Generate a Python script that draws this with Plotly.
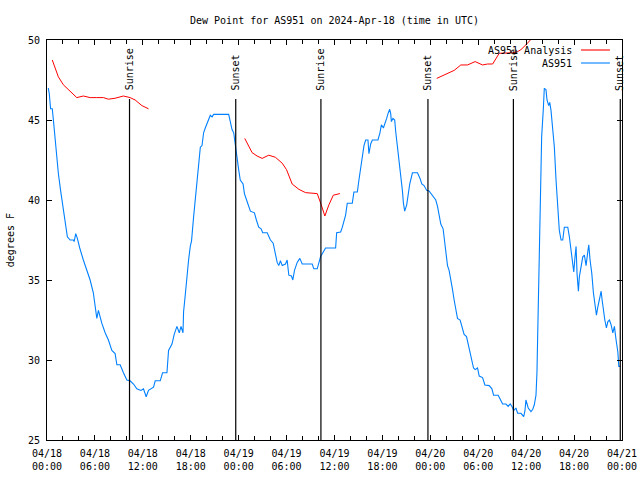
import pandas as pd
import plotly.graph_objects as go

# ---------------- data ----------------
START = "2024-04-18 00:00"

obs_hours = [0.16, 0.28, 0.45, 0.66, 0.8, 1.0, 1.2, 1.42, 1.7, 1.92, 2.17, 2.38, 2.55, 2.9, 3.3, 3.4, 3.6, 3.8,
             3.93, 4.1, 4.55, 4.98, 5.4, 5.8, 6.0, 6.24, 6.44, 6.86, 7.28, 7.69, 8.12, 8.53, 8.75, 9.16, 9.57,
             10.0, 10.4, 10.83, 11.25, 11.76, 12.08, 12.42, 12.71, 13.0, 13.34, 13.55, 14.18, 14.47, 15.02,
             15.22, 15.65, 15.93, 16.27, 16.56, 16.78, 17.03, 17.1, 17.3, 17.53, 17.73, 17.94, 18.1, 18.36,
             18.57, 18.78, 18.98, 19.2, 19.41, 19.61, 19.82, 20.04, 20.24, 20.45, 20.67, 20.87, 22.75, 22.96,
             23.17, 23.38, 23.59, 23.8, 24.0, 24.2, 24.55, 24.72, 24.97, 25.13, 25.47, 25.97, 26.22, 26.51,
             26.81, 27.01, 27.57, 27.98, 28.32, 28.6, 28.82, 29.02, 29.23, 29.45, 29.86, 30.07, 30.28, 30.61,
             30.78, 30.99, 31.33, 31.66, 31.96, 33.21, 33.41, 33.84, 34.04, 34.25, 34.88, 36.14, 36.27, 36.77,
             36.98, 37.39, 37.6, 38.23, 38.43, 38.86, 39.06, 39.27, 39.49, 39.69, 39.9, 40.19, 40.31, 40.53,
             40.74, 41.44, 41.69, 41.87, 42.12, 42.28, 42.53, 42.7, 42.91, 43.04, 43.12, 43.32, 43.54, 43.66,
             43.88, 44.08, 44.29, 44.5, 44.63, 44.79, 45.04, 45.2, 45.42, 45.76, 46.39, 46.71, 46.93, 47.21,
             47.55, 47.84, 48.27, 48.68, 48.9, 49.1, 49.31, 49.6, 49.75, 49.94, 50.15, 50.35, 50.56, 50.78,
             50.98, 51.19, 51.4, 51.73, 52.03, 52.23, 52.53, 52.74, 52.95, 53.16, 53.41, 53.61, 53.91, 54.12,
             54.54, 54.83, 55.37, 55.71, 55.92, 56.5, 56.84, 57.05, 57.47, 57.75, 58.0, 58.22, 58.43, 58.72,
             58.93, 59.35, 59.69, 59.85, 59.97, 60.1, 60.26, 60.6, 60.81, 61.02, 61.23, 61.35, 61.44, 61.57,
             61.64, 61.77, 61.94, 62.15, 62.27, 62.48, 62.61, 62.82, 62.95, 63.11, 63.32, 63.53, 63.74, 63.95,
             64.15, 64.37, 64.58, 64.78, 65.21, 65.41, 65.53, 65.71, 65.83, 65.96, 66.12, 66.25, 66.37, 66.54,
             66.66, 66.88, 67.09, 67.29, 67.5, 67.72, 67.84, 68.0, 68.22, 68.42, 68.63, 68.8, 68.97, 69.17,
             69.39, 69.51, 69.67, 69.85, 70.05, 70.23, 70.43, 70.64, 70.85, 71.05, 71.26, 71.48, 71.6, 71.8]
obs_dewpoint = [47.0, 46.67, 45.7, 45.7, 45.0, 43.75, 42.5, 41.67, 40.6, 39.8, 38.96, 38.1, 37.7, 37.5, 37.5,
                37.4, 37.9, 37.6, 37.3, 37.0, 36.25, 35.6, 35.0, 34.2, 33.3, 32.6, 33.1, 32.3, 31.7, 31.25,
                30.6, 30.4, 29.7, 29.7, 29.2, 28.75, 28.7, 28.5, 28.2, 28.1, 28.2, 27.7, 28.1, 28.2, 28.3, 28.7,
                28.7, 29.2, 29.2, 30.6, 31.0, 31.6, 32.1, 31.7, 32.1, 31.7, 33.0, 34.0, 35.4, 36.25, 37.1, 37.45,
                38.96, 40.0, 41.46, 42.5, 43.3, 43.4, 44.2, 44.5, 44.8, 45.1, 45.3, 45.2, 45.35, 45.35, 44.8,
                44.4, 44.2, 43.3, 42.7, 41.9, 41.25, 41.0, 40.4, 40.1, 39.8, 39.3, 39.2, 38.75, 38.3, 38.2,
                37.95, 37.95, 37.5, 37.3, 36.6, 36.1, 35.9, 36.2, 35.9, 36.0, 36.25, 35.3, 35.25, 35.0, 35.6,
                36.1, 36.35, 36.0, 36.0, 35.7, 35.7, 36.0, 36.45, 37.0, 37.0, 37.95, 38.0, 38.3, 39.06, 39.8,
                39.8, 40.5, 40.5, 41.25, 41.9, 42.7, 43.4, 43.75, 43.75, 42.9, 43.5, 43.75, 43.75, 44.2, 44.7,
                44.5, 44.7, 45.1, 45.4, 45.67, 45.4, 44.9, 45.1, 45.0, 44.3, 43.4, 42.5, 41.67, 40.6, 39.8,
                39.3, 39.7, 40.2, 41.0, 41.7, 41.7, 41.35, 41.0, 40.9, 40.6, 40.56, 40.3, 40.0, 39.6, 39.06,
                38.5, 38.2, 37.5, 36.67, 35.9, 35.6, 35.1, 34.4, 33.75, 33.1, 32.6, 32.5, 32.0, 31.6, 31.46,
                30.94, 30.5, 30.0, 29.5, 29.4, 29.5, 29.0, 28.9, 28.44, 28.4, 28.2, 27.8, 27.8, 27.46, 27.25,
                27.25, 27.1, 27.25, 27.1, 26.83, 27.0, 26.67, 26.67, 26.46, 26.83, 27.5, 27.3, 27.0, 26.77,
                26.9, 27.2, 27.8, 29.2, 31.35, 34.3, 37.5, 41.1, 43.96, 45.7, 46.98, 46.9, 46.25, 45.9, 46.1,
                45.6, 44.6, 43.3, 41.25, 39.8, 38.1, 37.5, 37.5, 38.3, 38.3, 37.7, 37.2, 36.67, 35.8, 35.5,
                36.45, 37.1, 35.4, 34.3, 35.2, 36.0, 36.45, 36.56, 35.9, 36.77, 37.2, 36.25, 35.4, 34.2, 33.3,
                32.8, 33.3, 33.75, 34.3, 33.75, 33.1, 32.5, 32.0, 32.4, 32.5, 32.2, 31.7, 32.1, 31.25, 30.5,
                29.6, 29.6]

analysis_hours = [0.66, 1.0, 1.42, 2.05, 2.89, 3.73, 4.55, 5.4, 6.24, 7.06, 7.69, 8.53, 9.57, 10.41, 11.04,
                  11.88, 12.71, None,
                  24.76, 25.26, 25.68, 26.31, 26.94, 27.77, 28.6, 29.45, 29.99, 30.7, 31.53, 32.37, 33.21,
                  33.84, 34.34, 34.79, 35.3, 35.85, 36.67, None,
                  48.8, 50.15, 50.98, 51.82, 52.66, 53.61, 54.54, 55.17, 55.8, 56.63, 57.47, 58.3, 58.93,
                  59.35, 59.97, 60.6, 61.3]
analysis_dewpoint = [48.75, 48.3, 47.7, 47.2, 46.77, 46.4, 46.5, 46.4, 46.4, 46.4, 46.3, 46.36, 46.5, 46.4,
                     46.25, 45.9, 45.7, None,
                     43.85, 43.4, 42.96, 42.75, 42.6, 42.8, 42.67, 42.3, 41.9, 41.0, 40.67, 40.46, 40.4,
                     40.4, 39.7, 39.0, 39.7, 40.3, 40.4, None,
                     47.6, 47.9, 48.1, 48.44, 48.44, 48.65, 48.44, 48.5, 48.5, 49.17, 49.2, 49.2, 49.27,
                     49.4, 49.7, 50.04, 50.6]

event_times = ["2024-04-18 10:20", "2024-04-18 23:38", "2024-04-19 10:18",
               "2024-04-19 23:42", "2024-04-20 10:24", "2024-04-20 23:47"]
event_names = ["Sunrise", "Sunset", "Sunrise", "Sunset", "Sunrise", "Sunset"]

tick_times = ["2024-04-18 00:00", "2024-04-18 06:00", "2024-04-18 12:00", "2024-04-18 18:00",
              "2024-04-19 00:00", "2024-04-19 06:00", "2024-04-19 12:00", "2024-04-19 18:00",
              "2024-04-20 00:00", "2024-04-20 06:00", "2024-04-20 12:00", "2024-04-20 18:00",
              "2024-04-21 00:00"]
tick_labels = ["04/18<br>00:00", "04/18<br>06:00", "04/18<br>12:00", "04/18<br>18:00",
               "04/19<br>00:00", "04/19<br>06:00", "04/19<br>12:00", "04/19<br>18:00",
               "04/20<br>00:00", "04/20<br>06:00", "04/20<br>12:00", "04/20<br>18:00",
               "04/21<br>00:00"]

# ---------------- figure ----------------
base = pd.Timestamp(START)


def to_time(hours):
    return [None if h is None else base + pd.Timedelta(hours=h) for h in hours]


FONT = "DejaVu Sans Mono, Liberation Mono, monospace"
RED = "#ff0000"
BLUE = "#0080ff"

fig = go.Figure()
fig.add_trace(go.Scatter(x=to_time(analysis_hours), y=analysis_dewpoint, mode="lines",
                         name="AS951 Analysis", line=dict(color=RED, width=1), connectgaps=False))
fig.add_trace(go.Scatter(x=to_time(obs_hours), y=obs_dewpoint, mode="lines",
                         name="AS951", line=dict(color=BLUE, width=1.1)))

for t, name in zip(event_times, event_names):
    fig.add_shape(type="line", xref="x", yref="paper", x0=t, x1=t, y0=0, y1=0.8525,
                  line=dict(color="black", width=1.2))
    fig.add_annotation(x=t, y=0.868, xref="x", yref="paper", text=name, textangle=-90,
                       showarrow=False, xanchor="center", yanchor="bottom",
                       font=dict(family=FONT, size=10, color="black"))

# manual legend (text left of sample line, gnuplot style)
legend_items = [("AS951 Analysis", RED, 0.975), ("AS951", BLUE, 0.9425)]
for label, color, ly in legend_items:
    fig.add_annotation(x=0.9165, y=ly, xref="paper", yref="paper", text=label, showarrow=False,
                       xanchor="right", yanchor="middle", font=dict(family=FONT, size=10, color="black"))
    fig.add_shape(type="line", xref="paper", yref="paper", x0=0.9287, x1=0.979, y0=ly, y1=ly,
                  line=dict(color=color, width=1.1))

fig.add_annotation(x=-0.064, y=0.5, xref="paper", yref="paper", text="degrees F", textangle=-90,
                   showarrow=False, xanchor="center", yanchor="middle",
                   font=dict(family=FONT, size=10, color="black"))

fig.update_layout(
    width=640, height=480,
    margin=dict(l=47, r=18, t=40, b=40),
    paper_bgcolor="white", plot_bgcolor="white",
    showlegend=False,
    font=dict(family=FONT, size=10, color="black"),
    title=dict(text="Dew Point for AS951 on 2024-Apr-18 (time in UTC)", x=0.5, xref="paper",
               y=1 - 20 / 480, yanchor="middle", font=dict(family=FONT, size=10, color="black")),
)
fig.update_xaxes(
    type="date", range=[base, base + pd.Timedelta(hours=72)], automargin=False,
    tickmode="array", tickvals=tick_times, ticktext=tick_labels,
    ticks="inside", ticklen=5, tickcolor="black", tickwidth=1, ticklabelstandoff=4,
    minor=dict(tickmode="linear", tick0=START, dtick=2 * 3600 * 1000, ticks="inside", ticklen=4,
               tickcolor="black", showgrid=False),
    showline=True, linecolor="black", linewidth=1, mirror="allticks",
    showgrid=False, zeroline=False,
)
fig.update_yaxes(
    range=[25, 50], tickmode="array", tickvals=[25, 30, 35, 40, 45, 50], automargin=False,
    ticks="inside", ticklen=5, tickcolor="black", ticklabelstandoff=4,
    showline=True, linecolor="black", linewidth=1, mirror="allticks",
    showgrid=False, zeroline=False,
)

fig.write_html("out.html", config={"displayModeBar": False},
               post_script="document.body.style.margin='0';document.body.style.overflow='hidden';")
